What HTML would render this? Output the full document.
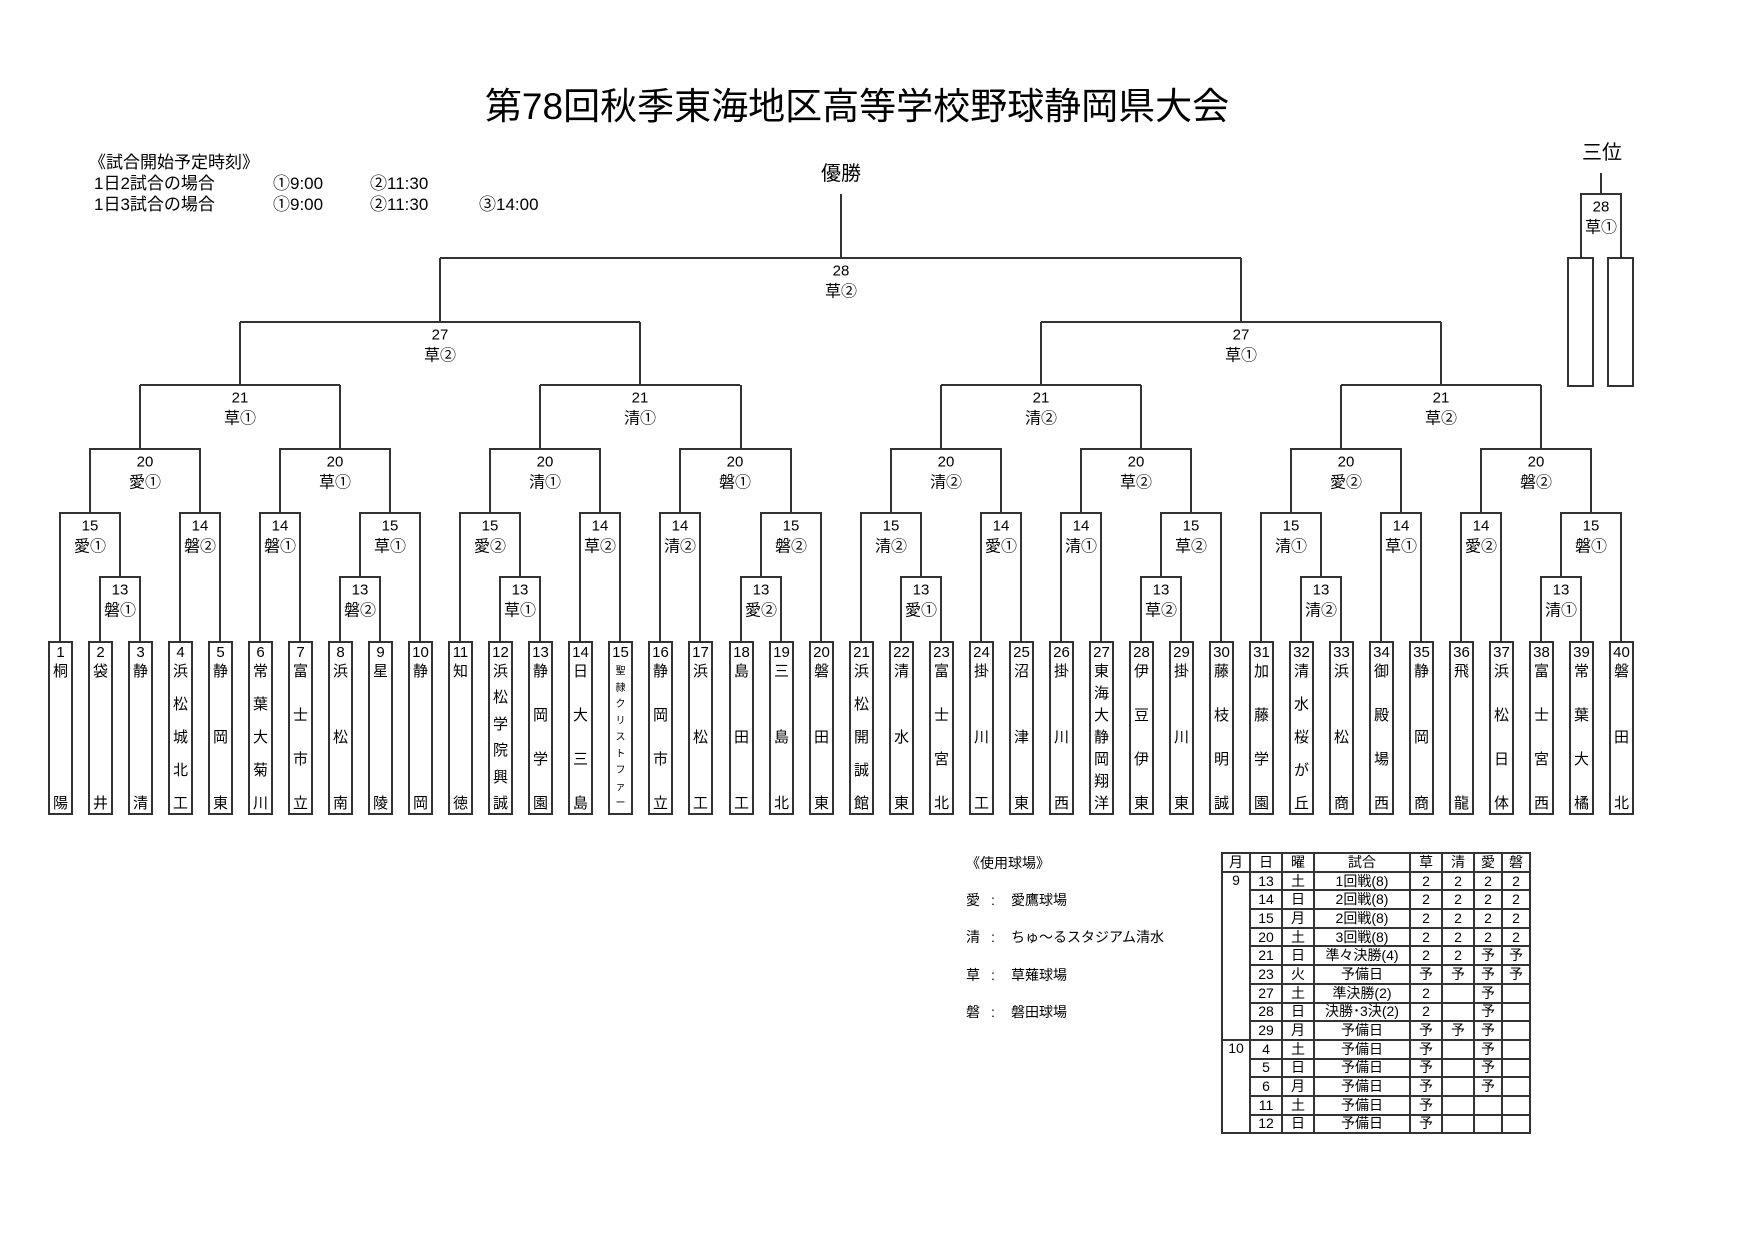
<!DOCTYPE html>
<html><head><meta charset="utf-8">
<style>
body{margin:0;background:#fff;}
#pg{position:relative;width:1755px;height:1241px;overflow:hidden;background:#fff;font-family:"Liberation Sans","Noto Sans CJK JP",sans-serif;color:#000;}
.t{position:absolute;white-space:nowrap;}
.b{position:absolute;top:641px;width:25px;height:174px;box-sizing:border-box;border:2px solid #333;}
.b .n{position:absolute;top:1px;left:-4px;right:-4px;text-align:center;font-size:15px;line-height:18px;}
.b .c{position:absolute;top:20px;left:0;right:0;height:150px;display:flex;flex-direction:column;justify-content:space-between;align-items:center;font-size:15px;line-height:18px;}
.b .c i{font-style:normal;display:block;}
.b .c.s{font-size:10px;line-height:14px;top:22px;height:146px;}
svg{position:absolute;left:0;top:0;}
table{position:absolute;left:1221px;top:852px;border-collapse:collapse;font-size:14px;}
td{border:2px solid #333;height:16.7px;padding:0;text-align:center;line-height:15px;}
td.m{vertical-align:top;text-align:center;}
</style></head><body><div id="pg">
<div class="t" style="left:0;width:1714px;top:85px;text-align:center;font-size:37px;line-height:44px;">第78回秋季東海地区高等学校野球静岡県大会</div>
<div class="t" style="left:89px;top:152px;font-size:17px;line-height:21px;">《試合開始予定時刻》</div>
<div class="t" style="left:94px;top:173px;font-size:17px;line-height:21px;">1日2試合の場合</div>
<div class="t" style="left:273px;top:173px;font-size:17px;line-height:21px;">①9:00</div>
<div class="t" style="left:370px;top:173px;font-size:17px;line-height:21px;">②11:30</div>
<div class="t" style="left:94px;top:194px;font-size:17px;line-height:21px;">1日3試合の場合</div>
<div class="t" style="left:273px;top:194px;font-size:17px;line-height:21px;">①9:00</div>
<div class="t" style="left:370px;top:194px;font-size:17px;line-height:21px;">②11:30</div>
<div class="t" style="left:479px;top:194px;font-size:17px;line-height:21px;">③14:00</div>
<div class="t" style="left:801px;width:80px;text-align:center;top:162px;font-size:20px;line-height:24px;">優勝</div>
<div class="t" style="left:1562px;width:80px;text-align:center;top:141px;font-size:20px;line-height:24px;">三位</div>

<svg width="1755" height="1241" font-family="Liberation Sans, Noto Sans CJK JP, sans-serif">
<g fill="none" stroke="#333" stroke-width="2">
<path d="M60,641V513H120V577M100,641V577H140V641M180,641V513H220V641M90,513V449H200V513M140,449V385"/>
<path d="M260,641V513H300V641M340,641V577H380V641M360,577V513H420V641M280,513V449H390V513M340,449V385"/>
<path d="M460,641V513H520V577M500,641V577H540V641M580,641V513H620V641M490,513V449H600V513M540,449V385"/>
<path d="M660,641V513H700V641M741,641V577H781V641M761,577V513H821V641M680,513V449H791V513M741,449V385"/>
<path d="M861,641V513H921V577M901,641V577H941V641M981,641V513H1021V641M891,513V449H1001V513M941,449V385"/>
<path d="M1061,641V513H1101V641M1141,641V577H1181V641M1161,577V513H1221V641M1081,513V449H1191V513M1141,449V385"/>
<path d="M1261,641V513H1321V577M1301,641V577H1341V641M1381,641V513H1421V641M1291,513V449H1401V513M1341,449V385"/>
<path d="M1461,641V513H1501V641M1541,641V577H1581V641M1561,577V513H1621V641M1481,513V449H1591V513M1541,449V385"/>
<path d="M140,385H340M240,385V322M540,385H740M640,385V322M941,385H1141M1041,385V322M1341,385H1541M1441,385V322"/>
<path d="M240,322H640M440,322V258M1041,322H1441M1241,322V258M440,258H1241M841,258V194"/>
<path d="M1601,173V194M1581,258V194H1621V258"/>
<rect x="1568" y="258" width="25" height="128"/><rect x="1608" y="258" width="25" height="128"/>
</g>
<g font-size="15" text-anchor="middle" dominant-baseline="central">
<text x="90" y="526">15</text><text x="90" y="547" font-size="16">愛①</text>
<text x="120" y="590">13</text><text x="120" y="611" font-size="16">磐①</text>
<text x="200" y="526">14</text><text x="200" y="547" font-size="16">磐②</text>
<text x="145" y="462">20</text><text x="145" y="483" font-size="16">愛①</text>
<text x="280" y="526">14</text><text x="280" y="547" font-size="16">磐①</text>
<text x="360" y="590">13</text><text x="360" y="611" font-size="16">磐②</text>
<text x="390" y="526">15</text><text x="390" y="547" font-size="16">草①</text>
<text x="335" y="462">20</text><text x="335" y="483" font-size="16">草①</text>
<text x="490" y="526">15</text><text x="490" y="547" font-size="16">愛②</text>
<text x="520" y="590">13</text><text x="520" y="611" font-size="16">草①</text>
<text x="600" y="526">14</text><text x="600" y="547" font-size="16">草②</text>
<text x="545" y="462">20</text><text x="545" y="483" font-size="16">清①</text>
<text x="680" y="526">14</text><text x="680" y="547" font-size="16">清②</text>
<text x="761" y="590">13</text><text x="761" y="611" font-size="16">愛②</text>
<text x="791" y="526">15</text><text x="791" y="547" font-size="16">磐②</text>
<text x="735" y="462">20</text><text x="735" y="483" font-size="16">磐①</text>
<text x="891" y="526">15</text><text x="891" y="547" font-size="16">清②</text>
<text x="921" y="590">13</text><text x="921" y="611" font-size="16">愛①</text>
<text x="1001" y="526">14</text><text x="1001" y="547" font-size="16">愛①</text>
<text x="946" y="462">20</text><text x="946" y="483" font-size="16">清②</text>
<text x="1081" y="526">14</text><text x="1081" y="547" font-size="16">清①</text>
<text x="1161" y="590">13</text><text x="1161" y="611" font-size="16">草②</text>
<text x="1191" y="526">15</text><text x="1191" y="547" font-size="16">草②</text>
<text x="1136" y="462">20</text><text x="1136" y="483" font-size="16">草②</text>
<text x="1291" y="526">15</text><text x="1291" y="547" font-size="16">清①</text>
<text x="1321" y="590">13</text><text x="1321" y="611" font-size="16">清②</text>
<text x="1401" y="526">14</text><text x="1401" y="547" font-size="16">草①</text>
<text x="1346" y="462">20</text><text x="1346" y="483" font-size="16">愛②</text>
<text x="1481" y="526">14</text><text x="1481" y="547" font-size="16">愛②</text>
<text x="1561" y="590">13</text><text x="1561" y="611" font-size="16">清①</text>
<text x="1591" y="526">15</text><text x="1591" y="547" font-size="16">磐①</text>
<text x="1536" y="462">20</text><text x="1536" y="483" font-size="16">磐②</text>
<text x="240" y="398">21</text><text x="240" y="419" font-size="16">草①</text>
<text x="640" y="398">21</text><text x="640" y="419" font-size="16">清①</text>
<text x="1041" y="398">21</text><text x="1041" y="419" font-size="16">清②</text>
<text x="1441" y="398">21</text><text x="1441" y="419" font-size="16">草②</text>
<text x="440" y="335">27</text><text x="440" y="356" font-size="16">草②</text>
<text x="1241" y="335">27</text><text x="1241" y="356" font-size="16">草①</text>
<text x="841" y="271">28</text><text x="841" y="292" font-size="16">草②</text>
<text x="1601" y="207">28</text><text x="1601" y="228" font-size="16">草①</text>
</g>
</svg>

<div class="b" style="left:48px"><div class="n">1</div><div class="c"><i>桐</i><i>陽</i></div></div>
<div class="b" style="left:88px"><div class="n">2</div><div class="c"><i>袋</i><i>井</i></div></div>
<div class="b" style="left:128px"><div class="n">3</div><div class="c"><i>静</i><i>清</i></div></div>
<div class="b" style="left:168px"><div class="n">4</div><div class="c"><i>浜</i><i>松</i><i>城</i><i>北</i><i>工</i></div></div>
<div class="b" style="left:208px"><div class="n">5</div><div class="c"><i>静</i><i>岡</i><i>東</i></div></div>
<div class="b" style="left:248px"><div class="n">6</div><div class="c"><i>常</i><i>葉</i><i>大</i><i>菊</i><i>川</i></div></div>
<div class="b" style="left:288px"><div class="n">7</div><div class="c"><i>富</i><i>士</i><i>市</i><i>立</i></div></div>
<div class="b" style="left:328px"><div class="n">8</div><div class="c"><i>浜</i><i>松</i><i>南</i></div></div>
<div class="b" style="left:368px"><div class="n">9</div><div class="c"><i>星</i><i>陵</i></div></div>
<div class="b" style="left:408px"><div class="n">10</div><div class="c"><i>静</i><i>岡</i></div></div>
<div class="b" style="left:448px"><div class="n">11</div><div class="c"><i>知</i><i>徳</i></div></div>
<div class="b" style="left:488px"><div class="n">12</div><div class="c"><i>浜</i><i>松</i><i>学</i><i>院</i><i>興</i><i>誠</i></div></div>
<div class="b" style="left:528px"><div class="n">13</div><div class="c"><i>静</i><i>岡</i><i>学</i><i>園</i></div></div>
<div class="b" style="left:568px"><div class="n">14</div><div class="c"><i>日</i><i>大</i><i>三</i><i>島</i></div></div>
<div class="b" style="left:608px"><div class="n">15</div><div class="c s"><i>聖</i><i>隷</i><i>ク</i><i>リ</i><i>ス</i><i>ト</i><i>フ</i><i>ァ</i><i>ー</i></div></div>
<div class="b" style="left:648px"><div class="n">16</div><div class="c"><i>静</i><i>岡</i><i>市</i><i>立</i></div></div>
<div class="b" style="left:688px"><div class="n">17</div><div class="c"><i>浜</i><i>松</i><i>工</i></div></div>
<div class="b" style="left:729px"><div class="n">18</div><div class="c"><i>島</i><i>田</i><i>工</i></div></div>
<div class="b" style="left:769px"><div class="n">19</div><div class="c"><i>三</i><i>島</i><i>北</i></div></div>
<div class="b" style="left:809px"><div class="n">20</div><div class="c"><i>磐</i><i>田</i><i>東</i></div></div>
<div class="b" style="left:849px"><div class="n">21</div><div class="c"><i>浜</i><i>松</i><i>開</i><i>誠</i><i>館</i></div></div>
<div class="b" style="left:889px"><div class="n">22</div><div class="c"><i>清</i><i>水</i><i>東</i></div></div>
<div class="b" style="left:929px"><div class="n">23</div><div class="c"><i>富</i><i>士</i><i>宮</i><i>北</i></div></div>
<div class="b" style="left:969px"><div class="n">24</div><div class="c"><i>掛</i><i>川</i><i>工</i></div></div>
<div class="b" style="left:1009px"><div class="n">25</div><div class="c"><i>沼</i><i>津</i><i>東</i></div></div>
<div class="b" style="left:1049px"><div class="n">26</div><div class="c"><i>掛</i><i>川</i><i>西</i></div></div>
<div class="b" style="left:1089px"><div class="n">27</div><div class="c"><i>東</i><i>海</i><i>大</i><i>静</i><i>岡</i><i>翔</i><i>洋</i></div></div>
<div class="b" style="left:1129px"><div class="n">28</div><div class="c"><i>伊</i><i>豆</i><i>伊</i><i>東</i></div></div>
<div class="b" style="left:1169px"><div class="n">29</div><div class="c"><i>掛</i><i>川</i><i>東</i></div></div>
<div class="b" style="left:1209px"><div class="n">30</div><div class="c"><i>藤</i><i>枝</i><i>明</i><i>誠</i></div></div>
<div class="b" style="left:1249px"><div class="n">31</div><div class="c"><i>加</i><i>藤</i><i>学</i><i>園</i></div></div>
<div class="b" style="left:1289px"><div class="n">32</div><div class="c"><i>清</i><i>水</i><i>桜</i><i>が</i><i>丘</i></div></div>
<div class="b" style="left:1329px"><div class="n">33</div><div class="c"><i>浜</i><i>松</i><i>商</i></div></div>
<div class="b" style="left:1369px"><div class="n">34</div><div class="c"><i>御</i><i>殿</i><i>場</i><i>西</i></div></div>
<div class="b" style="left:1409px"><div class="n">35</div><div class="c"><i>静</i><i>岡</i><i>商</i></div></div>
<div class="b" style="left:1449px"><div class="n">36</div><div class="c"><i>飛</i><i>龍</i></div></div>
<div class="b" style="left:1489px"><div class="n">37</div><div class="c"><i>浜</i><i>松</i><i>日</i><i>体</i></div></div>
<div class="b" style="left:1529px"><div class="n">38</div><div class="c"><i>富</i><i>士</i><i>宮</i><i>西</i></div></div>
<div class="b" style="left:1569px"><div class="n">39</div><div class="c"><i>常</i><i>葉</i><i>大</i><i>橘</i></div></div>
<div class="b" style="left:1609px"><div class="n">40</div><div class="c"><i>磐</i><i>田</i><i>北</i></div></div>

<div class="t" style="left:966px;top:854px;font-size:14px;line-height:18px;">《使用球場》</div>
<div class="t" style="left:966px;top:891px;font-size:14px;line-height:18px;">愛</div><div class="t" style="left:991px;top:891px;font-size:14px;line-height:18px;">:</div><div class="t" style="left:1011px;top:891px;font-size:14px;line-height:18px;">愛鷹球場</div>
<div class="t" style="left:966px;top:928px;font-size:14px;line-height:18px;">清</div><div class="t" style="left:991px;top:928px;font-size:14px;line-height:18px;">:</div><div class="t" style="left:1011px;top:928px;font-size:14px;line-height:18px;">ちゅ～るスタジアム清水</div>
<div class="t" style="left:966px;top:966px;font-size:14px;line-height:18px;">草</div><div class="t" style="left:991px;top:966px;font-size:14px;line-height:18px;">:</div><div class="t" style="left:1011px;top:966px;font-size:14px;line-height:18px;">草薙球場</div>
<div class="t" style="left:966px;top:1003px;font-size:14px;line-height:18px;">磐</div><div class="t" style="left:991px;top:1003px;font-size:14px;line-height:18px;">:</div><div class="t" style="left:1011px;top:1003px;font-size:14px;line-height:18px;">磐田球場</div>

<table>
<colgroup><col style="width:28px"><col style="width:32px"><col style="width:32px"><col style="width:96px"><col style="width:32px"><col style="width:32px"><col style="width:28px"><col style="width:28px"></colgroup>
<tr><td>月</td><td>日</td><td>曜</td><td>試合</td><td>草</td><td>清</td><td>愛</td><td>磐</td></tr>
<tr><td class="m" rowspan="9">9</td><td>13</td><td>土</td><td>1回戦(8)</td><td>2</td><td>2</td><td>2</td><td>2</td></tr>
<tr><td>14</td><td>日</td><td>2回戦(8)</td><td>2</td><td>2</td><td>2</td><td>2</td></tr>
<tr><td>15</td><td>月</td><td>2回戦(8)</td><td>2</td><td>2</td><td>2</td><td>2</td></tr>
<tr><td>20</td><td>土</td><td>3回戦(8)</td><td>2</td><td>2</td><td>2</td><td>2</td></tr>
<tr><td>21</td><td>日</td><td>準々決勝(4)</td><td>2</td><td>2</td><td>予</td><td>予</td></tr>
<tr><td>23</td><td>火</td><td>予備日</td><td>予</td><td>予</td><td>予</td><td>予</td></tr>
<tr><td>27</td><td>土</td><td>準決勝(2)</td><td>2</td><td></td><td>予</td><td></td></tr>
<tr><td>28</td><td>日</td><td>決勝･3決(2)</td><td>2</td><td></td><td>予</td><td></td></tr>
<tr><td>29</td><td>月</td><td>予備日</td><td>予</td><td>予</td><td>予</td><td></td></tr>
<tr><td class="m" rowspan="5">10</td><td>4</td><td>土</td><td>予備日</td><td>予</td><td></td><td>予</td><td></td></tr>
<tr><td>5</td><td>日</td><td>予備日</td><td>予</td><td></td><td>予</td><td></td></tr>
<tr><td>6</td><td>月</td><td>予備日</td><td>予</td><td></td><td>予</td><td></td></tr>
<tr><td>11</td><td>土</td><td>予備日</td><td>予</td><td></td><td></td><td></td></tr>
<tr><td>12</td><td>日</td><td>予備日</td><td>予</td><td></td><td></td><td></td></tr>
</table>
</div></body></html>
